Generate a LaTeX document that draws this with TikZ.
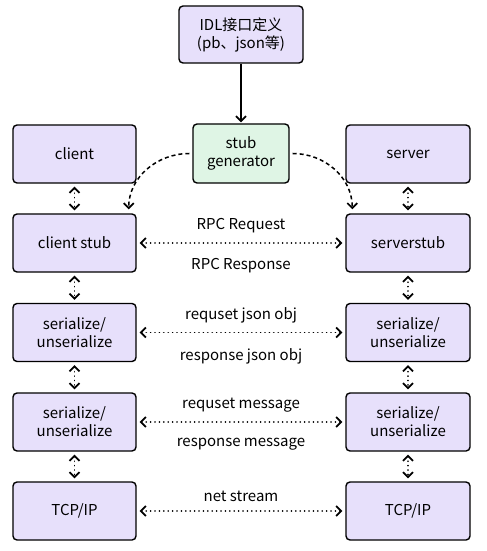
\documentclass[tikz,border=0pt]{standalone}
\usepackage{fontspec}
\setmainfont{Noto Sans CJK SC}
\usetikzlibrary{arrows.meta}
\definecolor{lav}{HTML}{E7E0FB}
\definecolor{mint}{HTML}{DFF5E5}

\begin{document}
\begin{tikzpicture} [
        x=1bp, y=-1bp,
        >={Straight Barb[length=5bp,width=10bp,line width=1.7bp]},
        font=\fontsize{15bp}{18bp}\selectfont,
        box/.style n args={3}{
        draw=black, fill=#1,
        line width=1.4bp,
        minimum width=#2bp,
        minimum height=#3bp,
        rounded corners=4bp,
        align=center, inner sep=2bp,
        rectangle
        },
        link/.style={<->, line width=1.6bp, line cap=round,
            dash pattern=on 0.1bp off 4.3bp, shorten <=3bp, shorten >=3bp},
        gen/.style={->, line width=1.5bp, dash pattern=on 4bp off 3bp},
        lbl/.style={inner sep=1bp}
    ]

    \useasboundingbox (0,0) rectangle (487,551);

    % 上面的 IDL 和生成器
    \node[box = {lav}{124}{57}](idl) at (241,34.5) {IDL接口定义\\(pb、json等)};
    \node[box = {mint}{96}{59}](gen) at (241,153.5) {stub\\generator};

    % 左边一列
    \node[box = {lav}{123}{58}](client) at (74.5,154) {client};
    \node[box = {lav}{123}{58}](cstub) at (74.5,243) {client stub};
    \node[box = {lav}{123}{58}](cser1) at (74.5,332.5) {serialize/\\unserialize};
    \node[box = {lav}{123}{58}](cser2) at (74.5,422) {serialize/\\unserialize};
    \node[box = {lav}{123}{58}](ctcp) at (74.5,511) {TCP/IP};

    % 右边一列
    \node[box = {lav}{124}{58}](server) at (408,154) {server};
    \node[box = {lav}{124}{58}](sstub) at (408,243) {serverstub};
    \node[box = {lav}{124}{58}](sser1) at (408,332.5) {serialize/\\unserialize};
    \node[box = {lav}{124}{58}](sser2) at (408,422) {serialize/\\unserialize};
    \node[box = {lav}{124}{58}](stcp) at (408,511) {TCP/IP};

    \draw[->, line width=1.4bp, shorten >=1bp] (idl) -- (gen);

    \draw[gen] (gen.west) ++(-3bp,0) to[out=180, in=90] ([xshift=-8bp,yshift=4bp]cstub.north east);
    \draw[gen] (gen.east) ++(3bp,0) to[out=0, in=90] ([xshift=7bp,yshift=4bp]sstub.north west);

    % 上下的箭头
    \foreach \a/\b in {client/cstub, cstub/cser1, cser1/cser2, cser2/ctcp,
                       server/sstub, sstub/sser1, sser1/sser2, sser2/stcp}
        \draw[link] (\a) -- (\b);

    % 左右的箭头
    \draw[link] (cstub) -- (sstub)
        node[lbl, midway, above=8bp](rq1) {RPC Request}
        node[lbl, midway, below=14bp](rs1) {RPC Response};
    \draw[link] (cser1) -- (sser1)
        node[lbl, midway, above=8bp](rq2) {requset json obj}
        node[lbl, midway, below=14bp](rs2) {response json obj};
    \draw[link] (cser2) -- (sser2)
        node[lbl, midway, above=8bp](rq3) {requset message}
        node[lbl, midway, below=14bp](rs3) {response message};
    \draw[link] (ctcp) -- (stcp)
        node[lbl, midway, above=8bp](rq4) {net stream};

\end{tikzpicture}
\end{document}
